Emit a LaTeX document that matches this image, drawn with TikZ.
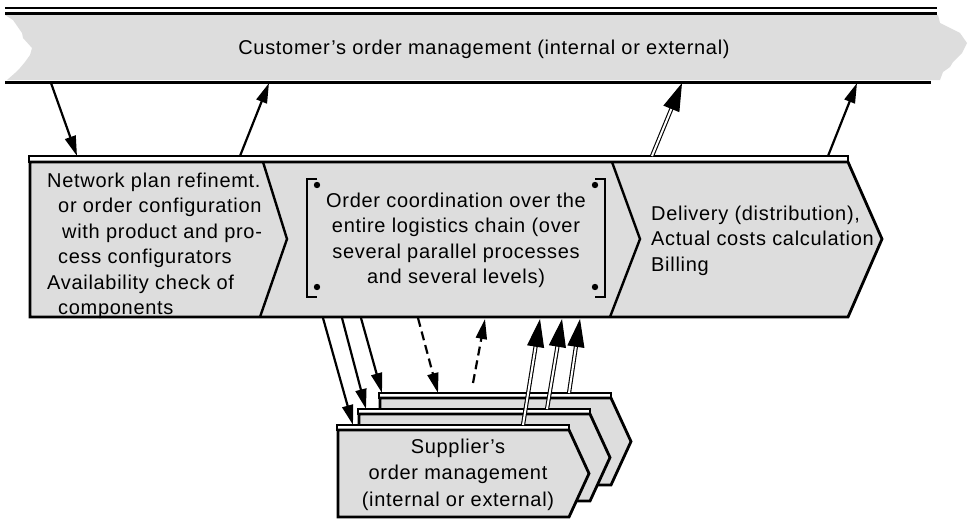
\documentclass[tikz,border=0pt]{standalone}
\usepackage{fontspec}
\setmainfont{Liberation Sans}[LetterSpace=3.5]
\usepackage{xcolor}
\definecolor{omGrey}{RGB}{221,221,221}
\usetikzlibrary{arrows.meta}

\begin{document}
\begin{tikzpicture}[x=1pt,y=-1pt,
  t/.style={inner sep=0pt,font=\fontsize{20}{25.5}\selectfont},
  box/.style={fill=omGrey,draw,line width=2.8pt,line join=miter},
  strip/.style={fill=white,draw,line width=1.4pt},
  div/.style={line width=2.4pt},
  a/.style={-{Triangle[length=20pt,width=11pt]},line width=2.2pt},
  dbl/.style={-{Triangle[length=28pt,width=17pt]},double,line width=1.1pt,double distance=2pt},
  da/.style={a,dash pattern=on 9pt off 5pt}]
  \useasboundingbox (0,0) rectangle (969,519);

  % customer band with torn ends
  \fill[omGrey] (5,15) -- (938,15) -- (940,23) -- (950,28) -- (960,33) -- (967,43)
    -- (962,53) -- (953,62) -- (950,67) -- (943,72) -- (940,80) -- (7,80) -- (15,73)
    -- (20,68) -- (25,62) -- (30,55) -- (32,48) -- (23,38) -- (22,33) -- (13,20) -- cycle;
  \draw[line width=1.6pt] (5,8) -- (937,8);
  \draw[line width=3pt] (5,14) -- (937,14);
  \draw[line width=3pt] (5,82) -- (931,82);
  \node[t,anchor=base] (cust) at (484,55) {Customer’s order management (internal or external)};

  % process chain
  \draw[strip] (29,156) rectangle (848,162);
  \draw[box] (30,162) -- (848,162) -- (882,239) -- (848,317) -- (30,317) -- cycle;
  \draw[div] (263,162) -- (287,239) -- (260,317);
  \draw[div] (612,162) -- (640,239) -- (610,317);
  \draw[div] (317,179) -- (307,179) -- (307,297) -- (317,297);
  \draw[div] (595,179) -- (605,179) -- (605,297) -- (595,297);
  \foreach \p in {(317,185),(595,185),(317,287),(595,287)}
    \fill \p circle (3.2pt);

  \node[t,anchor=north west,align=left] (plan) at (47,172.5) {Network plan refinemt.\\
    \hspace*{11pt}or order configuration\\
    \hspace*{15pt}with product and pro-\\
    \hspace*{11pt}cess configurators\\
    Availability check of\\
    \hspace*{11pt}components};
  \node[t,anchor=north,align=center] (coord) at (456,192.5) {Order coordination over the\\
    entire logistics chain (over\\ several parallel processes\\ and several levels)};
  \node[t,anchor=north west,align=left] (deliv) at (651,205.5) {Delivery (distribution),\\
    Actual costs calculation\\ Billing};

  % supplier boxes
  \foreach \l/\u in {380/398,359/414,338/430}{
    \draw[strip] (\l-1,\u-5) rectangle (\l+231,\u);
    \draw[box] (\l,\u) -- (\l+231,\u) -- (\l+251,\u+43.5) -- (\l+231,\u+87) -- (\l,\u+87) -- cycle;
  }
  \node[t,anchor=north,align=center,font=\fontsize{20}{26.5}\selectfont] (supp) at (458,438.5)
    {Supplier’s\\ order management\\ (internal or external)};

  % connectors
  \coordinate (c1) at (51,83);   \coordinate (p1) at (77,156);
  \coordinate (c2) at (269,83);  \coordinate (p2) at (240,156);
  \coordinate (c3) at (682,83);  \coordinate (p3) at (652,156);
  \coordinate (c4) at (857,83);  \coordinate (p4) at (828,156);
  \draw[a] (c1) -- (p1);
  \draw[a] (p2) -- (c2);
  \draw[dbl] (p3) -- (c3);
  \draw[a] (p4) -- (c4);

  \coordinate (o1) at (323,318); \coordinate (s1) at (353,425);
  \coordinate (o2) at (342,318); \coordinate (s2) at (366,409);
  \coordinate (o3) at (361,318); \coordinate (s3) at (382,393);
  \coordinate (o4) at (418,318); \coordinate (s4) at (438,393);
  \coordinate (o5) at (485,319); \coordinate (s5) at (473,383);
  \coordinate (o6) at (540,319); \coordinate (s6) at (523,425);
  \coordinate (o7) at (562,319); \coordinate (s7) at (547,409);
  \coordinate (o8) at (580,319); \coordinate (s8) at (569,393);
  \draw[a] (o1) -- (s1);
  \draw[a] (o2) -- (s2);
  \draw[a] (o3) -- (s3);
  \draw[da] (o4) -- (s4);
  \draw[da] (s5) -- (o5);
  \draw[dbl] (s6) -- (o6);
  \draw[dbl] (s7) -- (o7);
  \draw[dbl] (s8) -- (o8);
\end{tikzpicture}
\end{document}
